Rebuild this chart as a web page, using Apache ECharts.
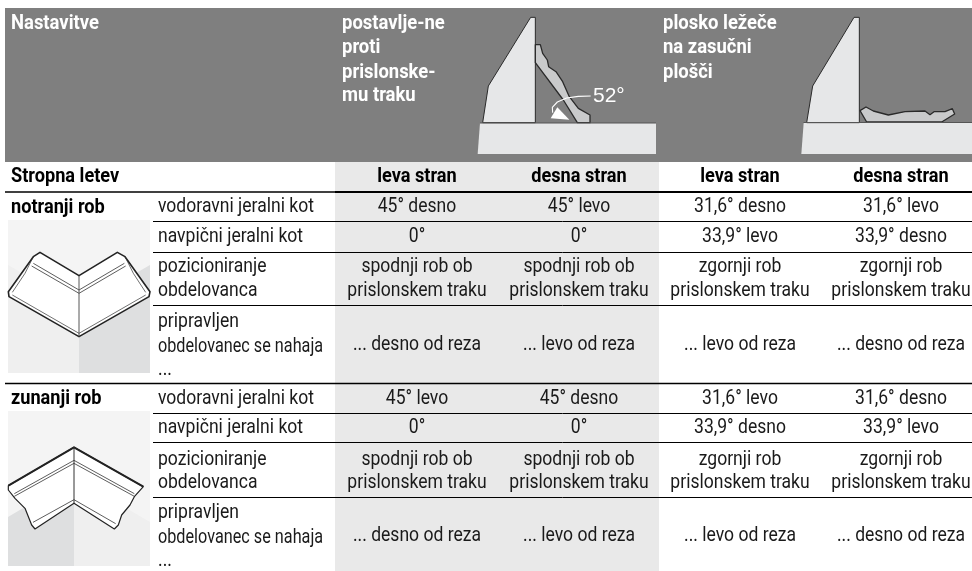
<!DOCTYPE html>
<html><head><meta charset="utf-8">
<style>html,body{margin:0;padding:0;background:#fff}#c{width:972px;height:571px}</style>
<script src="https://cdn.jsdelivr.net/npm/echarts@6/dist/echarts.min.js"></script>
</head><body><div id="c"></div>
<script>
// ---- table content ----
const mainTitle = 'Nastavitve';
const headUpright = ['postavlje-ne', 'proti', 'prislonske-', 'mu traku'];
const headFlat = ['plosko ležeče', 'na zasučni', 'plošči'];
const sideTitle = 'Stropna letev';
const sideHeads = ['leva stran', 'desna stran', 'leva stran', 'desna stran'];
const sectionInner = 'notranji rob';
const sectionOuter = 'zunanji rob';
const angleText = '52°';
const rowHoriz = 'vodoravni jeralni kot';
const rowVert = 'navpični jeralni kot';
const rowPos = ['pozicioniranje', 'obdelovanca'];
const rowReady = ['pripravljen', 'obdelovanec se nahaja', '...'];
const innerHoriz = ['45° desno', '45° levo', '31,6° desno', '31,6° levo'];
const innerVert = ['0°', '0°', '33,9° levo', '33,9° desno'];
const outerHoriz = ['45° levo', '45° desno', '31,6° levo', '31,6° desno'];
const outerVert = ['0°', '0°', '33,9° desno', '33,9° levo'];
const position = [['spodnji rob ob', 'prislonskem traku'], ['spodnji rob ob', 'prislonskem traku'], ['zgornji rob', 'prislonskem traku'], ['zgornji rob', 'prislonskem traku']];
const ready = ['... desno od reza', '... levo od reza', '... levo od reza', '... desno od reza'];

// ---- layout (separate from content) ----
const colX = [417, 579, 740, 901];
const FONT = 'Roboto';
const items = [];
const rect = (x, y, w, h, fill) => items.push({t: 'poly', pts: [[x, y], [x + w, y], [x + w, y + h], [x, y + h]], fill});
const line = (x1, y1, x2, y2, w, c) => items.push({t: 'line', pts: [[x1, y1], [x2, y2]], w: w || 1, c: c || '#000'});
const poly = (pts, fill, stroke, w) => items.push({t: 'poly', pts, fill, stroke, w});
const path = (pts, w, c) => items.push({t: 'line', pts, w, c});
const text = (s, x, y, o) => items.push(Object.assign({t: 'text', s, x, y, size: 20.3, sx: 0.865, weight: 'normal', color: '#1a1a1a', align: 'left'}, o || {}));
const z3 = (ox, oy, arr) => arr.map(p => [ox + p[0] / 3, oy + p[1] / 3]);

// backgrounds
rect(5, 8, 967, 154, '#7f7f7f');
rect(335, 162, 324, 409, '#e9e9e9');
// table rules
line(5, 192, 972, 192, 1.3); line(335, 192, 972, 192, 2);
line(5, 383.5, 972, 383.5, 1.5);
[221, 252, 305, 413, 442, 497].forEach(y => line(153, y + .5, 972, y + .5, 1));

// figure: upright moulding
const pale = '#e6e7e8', mid = '#c9cacb', ink = '#2a2a2a';
poly(z3(470, 10, [[30, 339], [558, 339], [558, 432], [23, 432]]), pale);
poly(z3(470, 10, [[38, 338], [55, 228], [182, 22], [196, 22], [196, 338]]), pale, ink, 1);
poly(z3(470, 10, [[196, 104], [211, 104], [218, 130], [232, 150], [236, 170], [258, 185], [278, 215], [298, 260], [325, 295], [360, 315], [360, 338], [322, 338], [280, 270], [196, 158]]), mid, ink, 1.3);
line(480, 123, 656, 123, 1, '#555');
path(z3(470, 10, [[362, 258], [325, 259], [290, 264], [262, 276], [247, 292], [248, 308]]), 1.1, '#fff');
poly(z3(470, 10, [[242, 325], [262, 292], [298, 329]]), '#fff');
// figure: flat moulding
poly(z3(790, 10, [[41, 339], [546, 339], [546, 432], [34, 432]]), pale);
poly(z3(790, 10, [[50, 338], [68, 228], [192, 22], [208, 22], [208, 338]]), pale, ink, 1);
poly(z3(790, 10, [[210, 302], [228, 291], [250, 303], [295, 315], [345, 305], [405, 303], [420, 314], [432, 305], [465, 305], [487, 296], [494, 312], [455, 336], [230, 336]]), mid, ink, 1.3);
line(803.5, 122.5, 972, 122.5, 1, '#555');

// figure: inner corner
rect(8, 220, 142, 153, '#f4f4f4');
poly([[8, 265], [79, 306], [79, 373], [8, 373]], '#efefef');
poly([[150, 265], [79, 306], [79, 373], [150, 373]], '#dedfe0');
const ic = (a) => z3(5, 235, a);
poly(ic([[105, 52], [222, 122], [337, 52], [360, 65], [435, 170], [432, 185], [222, 305], [12, 185], [10, 170], [85, 65]]), '#fff', '#222', 1.6);
path(ic([[85, 85], [222, 165], [358, 85]]), .8, '#333');
path(ic([[80, 93], [222, 175], [362, 93]]), .8, '#333');
path(ic([[85, 65], [60, 115], [22, 172]]), .7, '#333');
path(ic([[360, 65], [385, 115], [422, 172]]), .7, '#333');
path(ic([[22, 180], [222, 295], [422, 180]]), .7, '#333');
path(ic([[222, 122], [222, 305]]), .9, '#444');

// figure: outer corner
rect(8, 411, 142, 155, '#f4f4f4');
poly([[8, 517], [74, 478], [74, 566], [8, 566]], '#dedfe0');
poly([[150, 522], [74, 478], [74, 566], [150, 566]], '#efefef');
const oc = (a) => z3(5, 435, a);
poly(oc([[207, 37], [415, 155], [388, 185], [375, 210], [350, 240], [340, 270], [328, 282], [207, 205], [90, 282], [80, 270], [60, 220], [30, 190], [10, 165], [10, 152]]), '#fff', '#222', 1.2);
path(oc([[10, 152], [207, 37], [415, 155]]), 2, '#222');
path(oc([[28, 176], [207, 76], [388, 176]]), .8, '#333');
path(oc([[28, 184], [207, 85], [388, 184]]), .8, '#333');
path(oc([[84, 262], [207, 194], [332, 266]]), .8, '#333');
path(oc([[207, 37], [207, 205]]), 1, '#333');

// texts
const W = {color: '#fff', weight: 'bold', size: 20.5, sx: 0.9};
text(mainTitle, 11, 24, W);
headUpright.forEach((s, i) => text(s, 342, [24, 48, 73, 96][i], W));
headFlat.forEach((s, i) => text(s, 663, [24, 48, 73][i], W));
text(angleText, 593, 96, {color: '#fff', size: 21, font: 'Liberation Sans', sx: 1});
const B = {weight: 'bold', color: '#000', size: 21, sx: 0.865};
text(sideTitle, 11, 177, B);
sideHeads.forEach((s, i) => text(s, colX[i], 177, Object.assign({align: 'center'}, B)));
text(sectionInner, 11, 208, B);
text(sectionOuter, 11, 399, B);

function block(ys, horiz, vert) {
  text(rowHoriz, 158, ys[0]); text(rowVert, 158, ys[1]);
  rowPos.forEach((s, i) => text(s, 158, ys[2 + i]));
  rowReady.forEach((s, i) => text(s, 158, ys[4 + i], i === 1 ? {sx: 0.80} : {}));
  colX.forEach((x, i) => {
    const C = {align: 'center'};
    text(horiz[i], x, ys[0], C); text(vert[i], x, ys[1], C);
    text(position[i][0], x, ys[2], C); text(position[i][1], x, ys[3], C);
    text(ready[i], x, ys[7], C);
  });
}
block([207, 237, 267, 291, 322, 347, 370, 345], innerHoriz, innerVert);
block([399, 428, 460, 483, 513, 538, 561, 536], outerHoriz, outerVert);

function renderItem(params, api) {
  const it = items[params.dataIndex];
  const C = p => api.coord(p);
  if (it.t === 'poly') {
    return {type: 'polygon', shape: {points: it.pts.map(C)}, style: {fill: it.fill, stroke: it.stroke || null, lineWidth: it.w || 0, lineJoin: 'round'}};
  }
  if (it.t === 'line') {
    return {type: 'polyline', shape: {points: it.pts.map(C)}, style: {fill: null, stroke: it.c, lineWidth: it.w, lineJoin: 'round'}};
  }
  const p = C([it.x, it.y]);
  return {type: 'text', x: p[0], y: p[1], scaleX: it.sx,
    style: {text: it.s, fill: it.color, align: it.align, verticalAlign: 'middle',
      font: it.weight + ' ' + it.size + 'px "' + (it.font || FONT) + '"'}};
}

const chart = echarts.init(document.getElementById('c'), null, {renderer: 'canvas'});
chart.setOption({
  animation: false,
  backgroundColor: '#fff',
  grid: {left: 0, right: 0, top: 0, bottom: 0},
  xAxis: {type: 'value', min: 0, max: 972, show: false},
  yAxis: {type: 'value', min: 0, max: 571, inverse: true, show: false},
  tooltip: {show: false},
  series: [{type: 'custom', silent: true, clip: false, coordinateSystem: 'cartesian2d',
    data: items.map((_, i) => [0, i]), renderItem}]
});
</script></body></html>
